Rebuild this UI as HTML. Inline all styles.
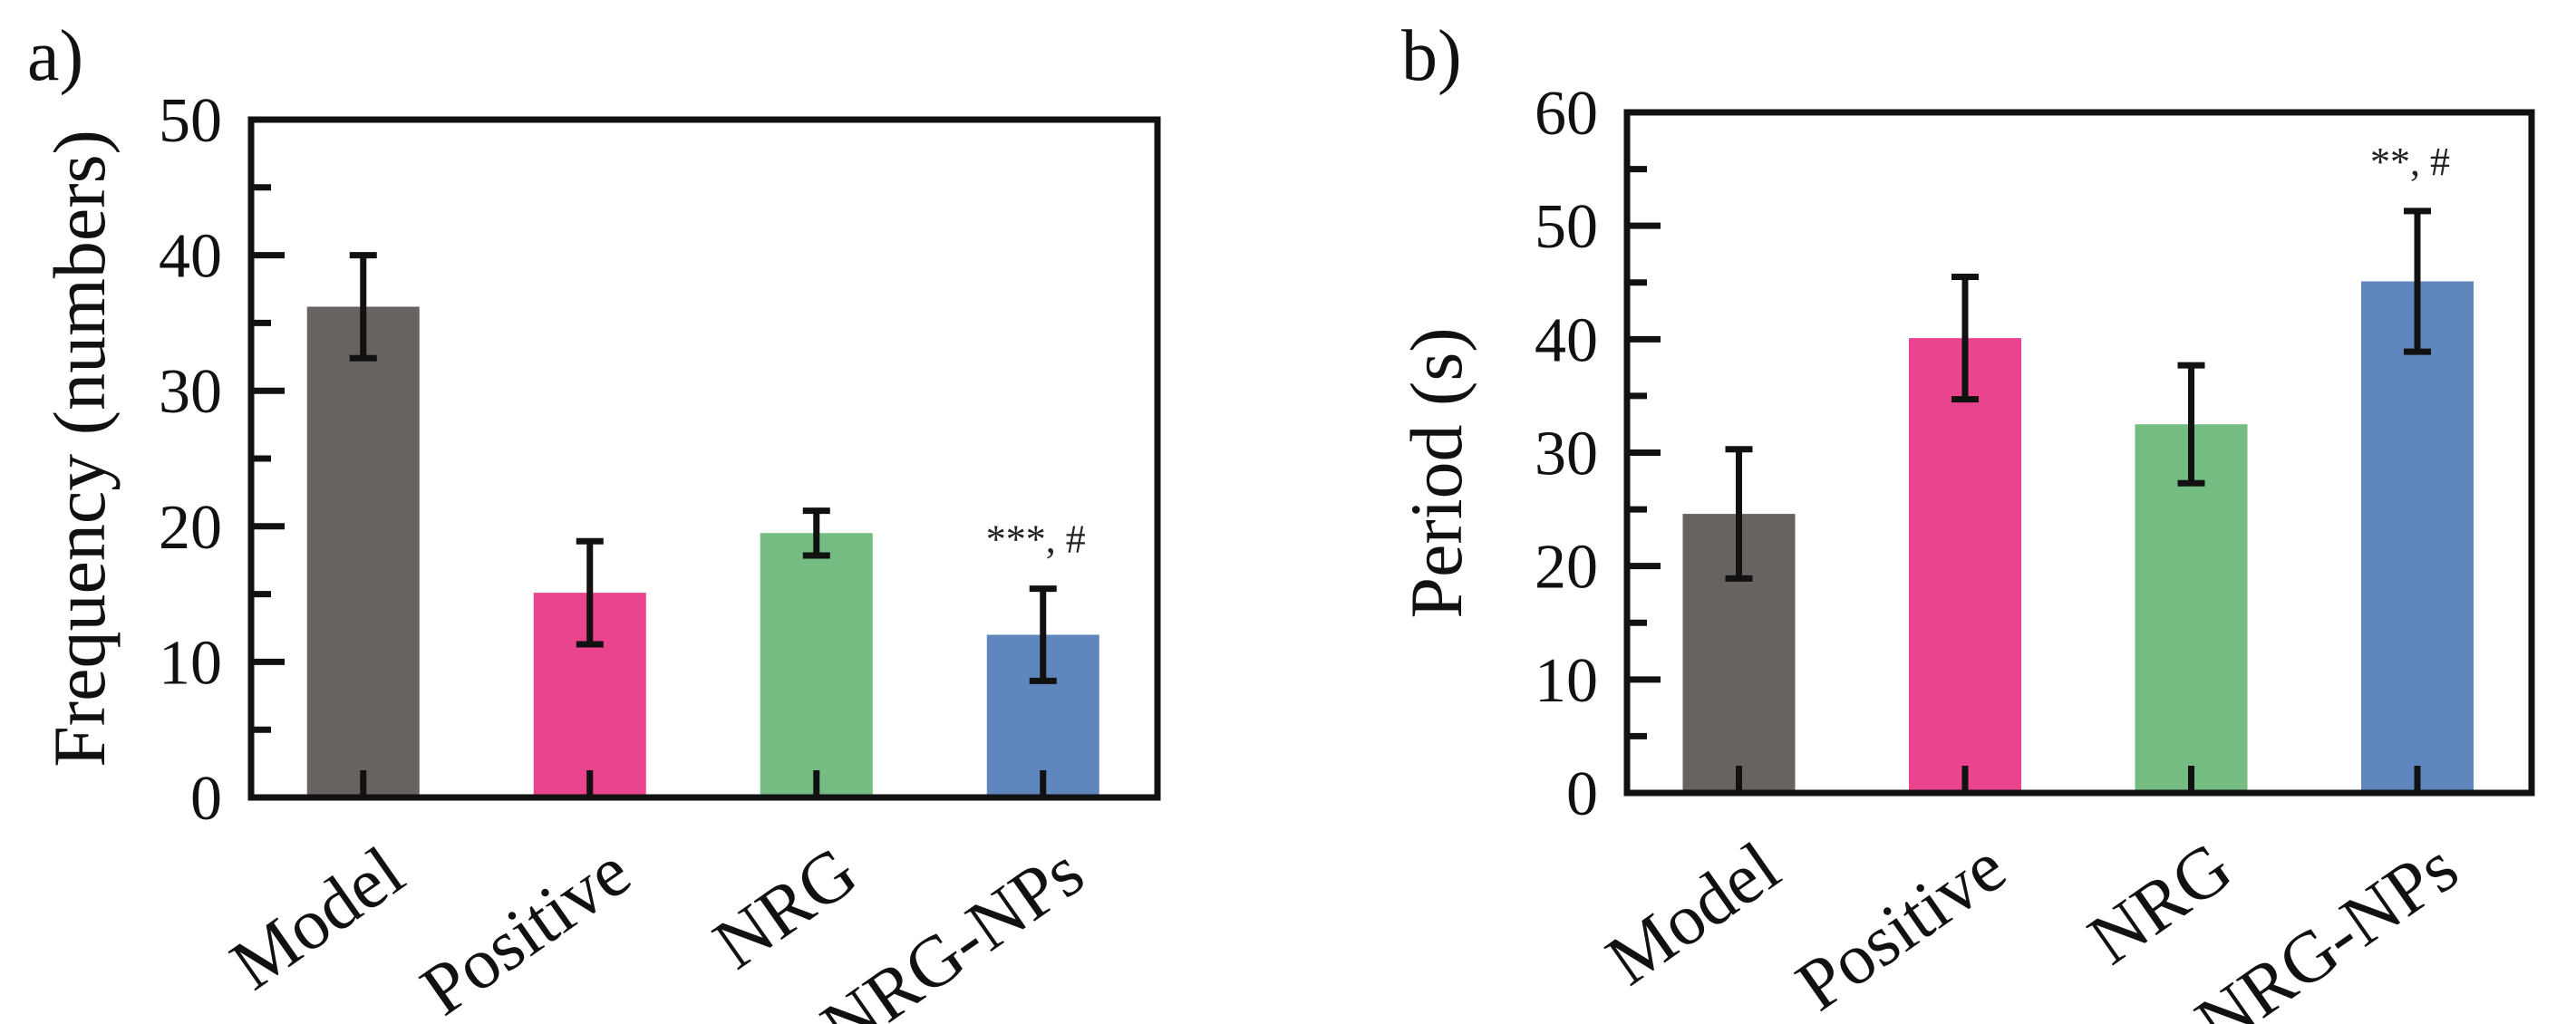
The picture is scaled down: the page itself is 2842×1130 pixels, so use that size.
<!DOCTYPE html>
<html><head><meta charset="utf-8"><style>
html,body{margin:0;padding:0;background:#fff;}
svg{display:block;font-family:"Liberation Serif",serif;}
</style></head><body>
<svg id="chart" width="2842" height="1130" viewBox="0 0 2842 1130" xmlns="http://www.w3.org/2000/svg"></svg>
<script>
const categories = ["Model", "Positive", "NRG", "NRG-NPs"];
const freqValues = [36.2, 15.1, 19.5, 12.0];
const freqErrors = [3.8, 3.8, 1.65, 3.4];
const freqTicks = [0, 10, 20, 30, 40, 50];
const periodValues = [24.6, 40.1, 32.5, 45.1];
const periodErrors = [5.7, 5.4, 5.2, 6.2];
const periodTicks = [0, 10, 20, 30, 40, 50, 60];
const barColors = ["#686360", "#e9448d", "#74bc81", "#5f86bd"];
const annotationsA = ["", "", "", "***, #"];
const annotationsB = ["", "", "", "**, #"];

const NS = "http://www.w3.org/2000/svg";
const svg = document.getElementById("chart");
function mk(tag, attrs, parent) {
  const e = document.createElementNS(NS, tag);
  for (const k in attrs) e.setAttribute(k, attrs[k]);
  (parent || svg).appendChild(e);
  return e;
}

function panel(cfg) {
  const g = mk("g", {});
  
  
  const L = cfg.left, R = cfg.right, T = cfg.top, B = cfg.bottom;
  const maxV = cfg.ticks[cfg.ticks.length - 1];
  const y = v => B - (v / maxV) * (B - T);
  const band = (R - L) / cfg.cats.length;
  const x = i => L + (i + 0.495) * band;
  const bw = 124;

  cfg.values.forEach((v, i) => {
    const r = mk("rect", {x: x(i) - bw / 2, y: y(v), width: bw, height: B - y(v), fill: barColors[i]}, g);
    
    
  });
  cfg.values.forEach((v, i) => {
    const eg = mk("g", {stroke: "#111", "stroke-width": 7}, g);
    
    
    const hi = y(v + cfg.errors[i]), lo = y(v - cfg.errors[i]);
    mk("line", {x1: x(i), x2: x(i), y1: hi, y2: lo}, eg);
    mk("line", {x1: x(i) - 15, x2: x(i) + 15, y1: hi, y2: hi}, eg);
    mk("line", {x1: x(i) - 15, x2: x(i) + 15, y1: lo, y2: lo}, eg);
    if (cfg.ann[i]) {
      const t = mk("text", {x: x(i) - 8, y: hi - 40, "text-anchor": "middle", "font-size": 44, fill: "#222"}, g);
      t.textContent = cfg.ann[i];
      
      
    }
  });
  cfg.cats.forEach((c, i) => {
    const tk = mk("line", {x1: x(i), x2: x(i), y1: B, y2: B - 30, stroke: "#111", "stroke-width": 7}, g);
    
    
    const t = mk("text", {x: 0, y: 0, "text-anchor": "end", "font-size": 80, fill: "#111",
      transform: "translate(" + (x(i) + 50) + "," + (B + 95) + ") rotate(-35)"}, g);
    t.textContent = c;
    
    
  });
  const step = cfg.ticks[1] - cfg.ticks[0];
  cfg.ticks.forEach((v, k) => {
    const tk = mk("line", {x1: L, x2: L + 37, y1: y(v), y2: y(v), stroke: "#111", "stroke-width": 7}, g);
    
    
    if (k < cfg.ticks.length - 1) {
      const m = mk("line", {x1: L, x2: L + 22, y1: y(v + step / 2), y2: y(v + step / 2), stroke: "#111", "stroke-width": 7}, g);
      
      
    }
    const t = mk("text", {x: L - 32, y: y(v) + 24, "text-anchor": "end", "font-size": 70, fill: "#111"}, g);
    t.textContent = v;
    
    
  });
  const f = mk("rect", {x: L, y: T, width: R - L, height: B - T, fill: "none", stroke: "#111", "stroke-width": 7}, g);
  
  
  const yt = mk("text", {x: 0, y: 0, "text-anchor": "middle", "font-size": 82, fill: "#111",
    transform: "translate(" + cfg.titleX + "," + cfg.titleY + ") rotate(-90)"}, g);
  yt.textContent = cfg.title;
  
  
  const pl = mk("text", {x: cfg.labX, y: cfg.labY, "font-size": 80, fill: "#111"}, g);
  pl.textContent = cfg.label;
  
  
}

panel({name: "panel-a-frequency", left: 277, right: 1277, top: 132, bottom: 880,
  cats: categories, values: freqValues, errors: freqErrors, ticks: freqTicks, ann: annotationsA,
  title: "Frequency (numbers)", titleX: 115, titleY: 495, label: "a)", labX: 30, labY: 88});
panel({name: "panel-b-period", left: 1795, right: 2793, top: 124, bottom: 875,
  cats: categories, values: periodValues, errors: periodErrors, ticks: periodTicks, ann: annotationsB,
  title: "Period (s)", titleX: 1612, titleY: 522, label: "b)", labX: 1546, labY: 88});
</script>
</body></html>
